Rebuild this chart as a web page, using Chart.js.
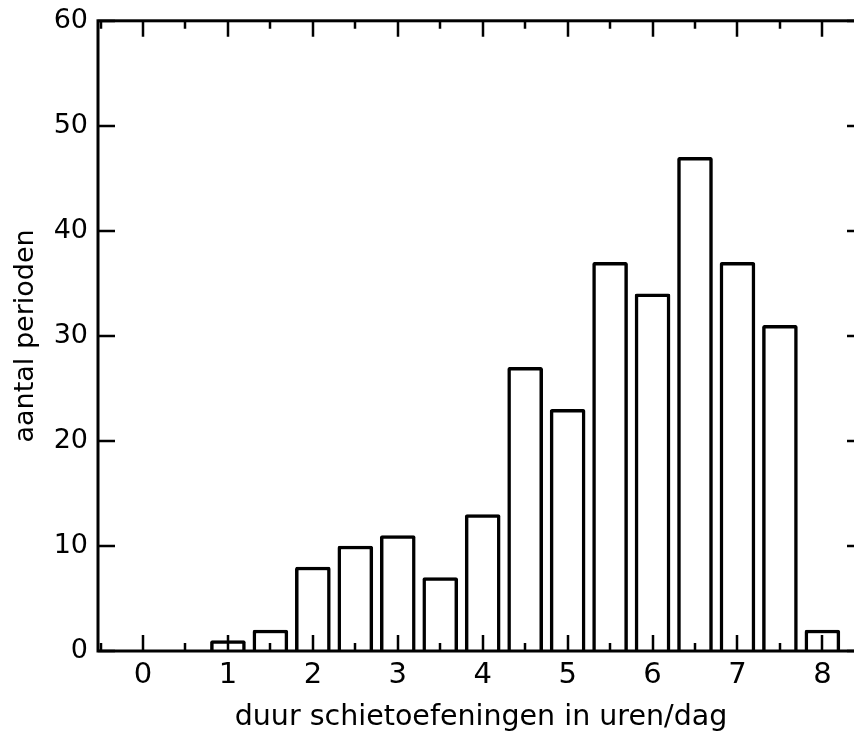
<!doctype html>
<html lang="nl">
  <head>
    <meta charset="UTF-8" />
    <title>Duur schietoefeningen</title>
    <script src="https://cdn.jsdelivr.net/npm/chart.js"></script>
    <style>
      html, body { margin: 0; padding: 0; overflow: hidden; background: #fff; }
      #wrap { width: 870px; height: 736px; position: relative; }
    </style>
  </head>
  <body>
    <div id="wrap"><canvas id="myChart"></canvas></div>
    <script>
      // uren per dag (klassemidden) en aantal perioden
      const hours = [0.5, 1, 1.5, 2, 2.5, 3, 3.5, 4, 4.5, 5, 5.5, 6, 6.5, 7, 7.5, 8]
      const counts = [0, 1, 2, 8, 10, 11, 7, 13, 27, 23, 37, 34, 47, 37, 31, 2]

      const xTickValues = [0, 1, 2, 3, 4, 5, 6, 7, 8]
      const yTickValues = [0, 10, 20, 30, 40, 50, 60]

      const xTitle = 'duur schietoefeningen in uren/dag'
      const yTitle = 'aantal perioden'

      // frame around the plot with inward pointing tick marks on all four sides
      const framePlugin = {
        id: 'frame',
        afterDraw(chart) {
          const { ctx, chartArea: a, scales } = chart
          ctx.save()
          ctx.strokeStyle = '#000'
          ctx.lineWidth = 3
          ctx.strokeRect(a.left, a.top, a.right - a.left, a.bottom - a.top)
          ctx.lineWidth = 2.5
          ctx.beginPath()
          for (let v = Math.ceil(scales.x.min * 2) / 2; v < scales.x.max; v += 0.5) {
            const px = Math.round(scales.x.getPixelForValue(v))
            const major = Number.isInteger(v)
            ctx.moveTo(px, a.bottom)
            ctx.lineTo(px, a.bottom - (major ? 16 : 8))
            ctx.moveTo(px, a.top)
            ctx.lineTo(px, a.top + (major ? 16 : 8))
          }
          yTickValues.forEach((v) => {
            const py = Math.round(scales.y.getPixelForValue(v))
            ctx.moveTo(a.left, py)
            ctx.lineTo(a.left + 17, py)
            ctx.moveTo(a.right, py)
            ctx.lineTo(a.right - 17, py)
          })
          ctx.stroke()
          ctx.restore()
        }
      }

      const ctx = document.getElementById('myChart').getContext('2d')

      const myChart = new Chart(ctx, {
        type: 'bar',
        data: {
          datasets: [
            {
              data: hours.map((h, i) => ({ x: h, y: counts[i] })),
              backgroundColor: '#fff',
              borderColor: '#000',
              borderWidth: 3.5,
              borderRadius: 2,
              barThickness: 35
            }
          ]
        },
        options: {
          responsive: true,
          maintainAspectRatio: false,
          animation: false,
          layout: { padding: { top: 20, right: 6, left: 0, bottom: 0 } },
          plugins: {
            legend: { display: false },
            tooltip: { enabled: false }
          },
          scales: {
            x: {
              type: 'linear',
              min: -0.53,
              max: 8.49,
              offset: false,
              grid: { display: false, drawTicks: false },
              border: { display: false },
              afterBuildTicks: (scale) => {
                scale.ticks = xTickValues.map((v) => ({ value: v }))
              },
              afterFit: (scale) => {
                scale.height = 85
              },
              ticks: {
                color: '#000',
                padding: 7,
                maxRotation: 0,
                font: { family: 'DejaVu Sans', size: 29 }
              },
              title: {
                display: true,
                text: xTitle,
                color: '#000',
                padding: { top: 0, bottom: 1 },
                font: { family: 'DejaVu Sans', size: 28.5 }
              }
            },
            y: {
              min: 0,
              max: 60,
              grid: { display: false, drawTicks: false },
              border: { display: false },
              afterBuildTicks: (scale) => {
                scale.ticks = yTickValues.map((v) => ({ value: v }))
              },
              afterFit: (scale) => {
                scale.width = 98
              },
              ticks: {
                color: '#000',
                padding: 10,
                font: { family: 'DejaVu Sans', size: 27, lineHeight: 0.8 }
              },
              title: {
                display: true,
                text: yTitle,
                color: '#000',
                padding: { top: 10, bottom: 0 },
                font: { family: 'DejaVu Sans', size: 27 }
              }
            }
          }
        },
        plugins: [framePlugin]
      })
    </script>
  </body>
</html>
